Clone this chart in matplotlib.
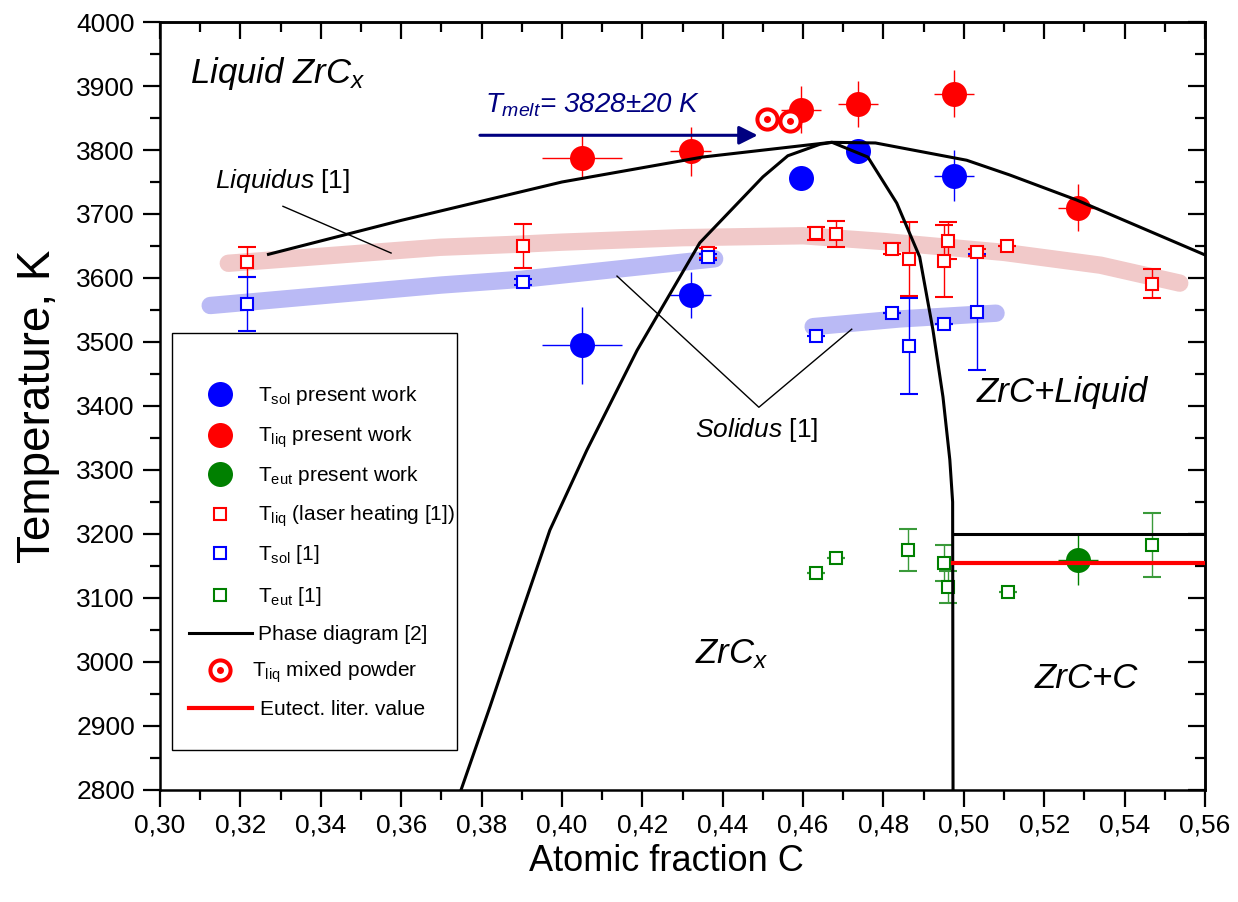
"""ZrC_x phase diagram near the congruent melting point, with present-work and literature points."""

import matplotlib

matplotlib.use("Agg")
import matplotlib.pyplot as plt  # noqa: E402
from matplotlib.patches import Rectangle  # noqa: E402
from matplotlib.ticker import FuncFormatter, MultipleLocator  # noqa: E402

plt.rcParams["font.family"] = ["Liberation Sans", "DejaVu Sans"]
plt.rcParams["mathtext.fontset"] = "custom"
plt.rcParams["mathtext.rm"] = "Liberation Sans"
plt.rcParams["mathtext.it"] = "Liberation Sans:italic"

# present work, solidus (filled blue)
sol_pw_x = [0.405, 0.432, 0.4595, 0.4736, 0.4975]
sol_pw_T = [3495, 3573, 3757, 3798, 3760]
sol_pw_xerr = [0.010, 0.005, 0.0, 0.0, 0.005]
sol_pw_Terr = [60, 36, 0, 0, 40]

# present work, liquidus (filled red)
liq_pw_x = [0.405, 0.432, 0.4595, 0.4736, 0.4975, 0.5284]
liq_pw_T = [3788, 3798, 3863, 3872, 3888, 3710]
liq_pw_xerr = [0.010, 0.005, 0.005, 0.005, 0.005, 0.005]
liq_pw_Terr = [34, 38, 37, 36, 37, 37]

# present work, eutectic (filled green)
eut_pw_x = [0.5284]
eut_pw_T = [3160]
eut_pw_xerr = [0.005]
eut_pw_Terr = [40]

# literature [1], laser heating liquidus (open red)
liq_lit_x = [0.3216, 0.3903, 0.4363, 0.4632, 0.4682, 0.4821, 0.4863, 0.4950, 0.4960, 0.5032, 0.5107, 0.5468]
liq_lit_T = [3625, 3650, 3639, 3670, 3669, 3646, 3630, 3627, 3658, 3640, 3650, 3591]
liq_lit_Terr = [23, 34, 8, 10, 20, 8, 58, 56, 29, 6, 0, 23]

# literature [1], solidus (open blue)
sol_lit_x = [0.3216, 0.3903, 0.4363, 0.4632, 0.4821, 0.4863, 0.4950, 0.5032]
sol_lit_T = [3559, 3594, 3633, 3509, 3546, 3494, 3528, 3547]
sol_lit_Terr = [42, 5, 5, 0, 0, 75, 0, 91]

# literature [1], eutectic (open green)
eut_lit_x = [0.4632, 0.4682, 0.4860, 0.4950, 0.4960, 0.5110, 0.5468]
eut_lit_T = [3139, 3162, 3175, 3155, 3117, 3109, 3183]
eut_lit_Terr = [0, 0, 33, 28, 25, 0, 50]

# mixed powder liquidus
mix_x = [0.4510, 0.4567]
mix_T = [3849, 3845]

# phase diagram [2]
pd_liq_x = [0.327, 0.36, 0.40, 0.435, 0.467, 0.478, 0.5007, 0.5114, 0.528, 0.56]
pd_liq_T = [3637, 3690, 3750, 3789, 3812, 3811, 3784, 3761, 3722, 3636]
pd_sol_x = [0.3749, 0.3821, 0.3896, 0.3970, 0.4062, 0.4187, 0.4343, 0.4500, 0.4562, 0.4642,
            0.4672, 0.4761, 0.4833, 0.4890, 0.4923, 0.4948, 0.4965, 0.4972, 0.4973]
pd_sol_T = [2800, 2930, 3070, 3206, 3331, 3487, 3655, 3758, 3791, 3809,
            3812, 3789, 3717, 3633, 3519, 3414, 3316, 3250, 2800]
x_eut = 0.4973
T_eut_pd = 3200
T_eut_lit = 3155

# smoothed trends of [1]
band_liq_x = [0.317, 0.3697, 0.39, 0.40, 0.43, 0.46, 0.48, 0.51, 0.534, 0.5537]
band_liq_T = [3623, 3648, 3653, 3656, 3663, 3666, 3657, 3640, 3620, 3592]
band_sol1_x = [0.3125, 0.37, 0.39, 0.438]
band_sol1_T = [3557, 3589, 3598, 3630]
band_sol2_x = [0.4625, 0.484, 0.508]
band_sol2_T = [3524, 3536, 3545]

T_melt = 3828
T_melt_arrow = 3823

BLUE, RED, GREEN, NAVY = "#0000ff", "#ff0000", "#008000", "#000080"


def main():
    fig = plt.figure(figsize=(12.38, 9.02), dpi=100)
    ax = fig.add_axes([0.1292, 0.1242, 0.8442, 0.8514])
    ax.set_xlim(0.30, 0.56)
    ax.set_ylim(2800, 4000)

    band = dict(lw=12.5, solid_capstyle="round", zorder=1)
    ax.plot(band_liq_x, band_liq_T, color="#f1c9c9", **band)
    ax.plot(band_sol1_x, band_sol1_T, color="#babaf5", **band)
    ax.plot(band_sol2_x, band_sol2_T, color="#babaf5", **band)

    # literature open squares
    sq = dict(fmt="s", ms=8.6, mfc="white", mew=1.5, elinewidth=1.0, capsize=6.5, capthick=1.0, zorder=3)
    ax.errorbar(liq_lit_x, liq_lit_T, yerr=liq_lit_Terr, color=RED, ecolor=RED, mec=RED, **sq)
    ax.errorbar(sol_lit_x, sol_lit_T, yerr=sol_lit_Terr, color=BLUE, ecolor=BLUE, mec=BLUE, **sq)
    ax.errorbar(eut_lit_x, eut_lit_T, yerr=eut_lit_Terr, color=GREEN, ecolor="#3a9a3a", mec=GREEN, **sq)

    # present work filled circles
    dot = dict(fmt="o", ms=18, mew=0, elinewidth=1.0, capsize=6.5, capthick=1.0, zorder=4)
    ax.errorbar(sol_pw_x, sol_pw_T, xerr=sol_pw_xerr, yerr=sol_pw_Terr, color=BLUE, **dot)
    ax.errorbar(liq_pw_x, liq_pw_T, xerr=liq_pw_xerr, yerr=liq_pw_Terr, color=RED, **dot)
    ax.errorbar(eut_pw_x, eut_pw_T, xerr=eut_pw_xerr, yerr=eut_pw_Terr, color=GREEN, **dot)

    # mixed powder
    ax.plot(mix_x, mix_T, "o", ms=14.5, mfc="white", mec=RED, mew=2.9, zorder=5)
    ax.plot(mix_x, mix_T, "o", ms=4, color=RED, zorder=5)

    # phase diagram [2]
    ax.plot(pd_liq_x, pd_liq_T, color="black", lw=2.2, zorder=6)
    ax.plot(pd_sol_x, pd_sol_T, color="black", lw=2.2, zorder=6)
    ax.plot([x_eut, 0.56], [T_eut_pd, T_eut_pd], color="black", lw=2.2, zorder=6)
    ax.plot([x_eut, 0.56], [T_eut_lit, T_eut_lit], color=RED, lw=3, zorder=6)

    # melting point arrow
    ax.annotate("", xy=(0.4487, T_melt_arrow), xytext=(0.3796, T_melt_arrow),
                arrowprops=dict(arrowstyle="-|>", color=NAVY, lw=2.2, mutation_scale=28,
                                shrinkA=0, shrinkB=0), zorder=6)
    ax.text(0.3809, 3858, r"$T_{melt}$= %d±20 K" % T_melt, color=NAVY, fontsize=20,
            style="italic", va="baseline")

    # pointer lines
    ax.plot([0.3306, 0.3575], [3712, 3639], color="black", lw=1.0, zorder=6)
    ax.plot([0.4137, 0.4490, 0.4721], [3603, 3398, 3520], color="black", lw=1.0, zorder=6)

    ax.text(0.3075, 3905, r"Liquid ZrC$_x$", fontsize=25, style="italic", va="baseline")
    ax.text(0.3137, 3741, r"$Liquidus$ [1]", fontsize=19, va="baseline")
    ax.text(0.4331, 3352, r"$Solidus$ [1]", fontsize=19, va="baseline")
    ax.text(0.5032, 3406, "ZrC+Liquid", fontsize=25, style="italic", va="baseline")
    ax.text(0.4331, 2998, r"ZrC$_x$", fontsize=25, style="italic", va="baseline")
    ax.text(0.5177, 2959, "ZrC+C", fontsize=25, style="italic", va="baseline")

    # axes, ticks
    ax.xaxis.set_major_locator(MultipleLocator(0.02))
    ax.xaxis.set_minor_locator(MultipleLocator(0.01))
    ax.yaxis.set_major_locator(MultipleLocator(100))
    ax.yaxis.set_minor_locator(MultipleLocator(50))
    ax.xaxis.set_major_formatter(FuncFormatter(lambda v, p: f"{v:.2f}".replace(".", ",")))
    ax.tick_params(which="major", direction="out", length=12, width=1.6, labelsize=19)
    ax.tick_params(which="minor", direction="out", length=7, width=1.6)
    ax.tick_params(axis="y", which="major", pad=6)
    ax.tick_params(axis="x", which="major", pad=5)
    for s in ax.spines.values():
        s.set_linewidth(1.8)

    top = ax.secondary_xaxis("top")
    top.xaxis.set_major_locator(MultipleLocator(0.02))
    top.xaxis.set_minor_locator(MultipleLocator(0.01))
    top.tick_params(which="major", direction="in", length=12, width=1.6, labeltop=False)
    top.tick_params(which="minor", direction="in", length=7, width=1.6)
    right = ax.secondary_yaxis("right")
    right.yaxis.set_major_locator(MultipleLocator(100))
    right.yaxis.set_minor_locator(MultipleLocator(50))
    right.tick_params(which="major", direction="in", length=12, width=1.6, labelright=False)
    right.tick_params(which="minor", direction="in", length=7, width=1.6)
    for a in (top, right):
        for s in a.spines.values():
            s.set_linewidth(1.8)

    ax.set_xlabel("Atomic fraction C", fontsize=26)
    ax.set_ylabel("Temperature, K", fontsize=33)
    ax.xaxis.set_label_coords(0.485, -0.07)
    ax.yaxis.set_label_coords(-0.096, 0.5)

    # legend drawn by hand to match the boxed layout
    tr = ax.transAxes
    ax.add_patch(Rectangle((0.0115, 0.0521), 0.2727, 0.5429, transform=tr, facecolor="white",
                           edgecolor="black", lw=1.0, zorder=10))

    def row(py):
        return (790 - py) / 768

    mx, tx = 0.0574, 0.0938
    kw = dict(transform=tr, zorder=11, clip_on=False)
    ax.plot([mx], [row(394)], "o", ms=18, mew=0, color=BLUE, **kw)
    ax.plot([mx], [row(435)], "o", ms=18, mew=0, color=RED, **kw)
    ax.plot([mx], [row(474)], "o", ms=18, mew=0, color=GREEN, **kw)
    ax.plot([mx], [row(514)], "s", ms=8.6, mfc="white", mec=RED, mew=1.5, **kw)
    ax.plot([mx], [row(553)], "s", ms=8.6, mfc="white", mec=BLUE, mew=1.5, **kw)
    ax.plot([mx], [row(595)], "s", ms=8.6, mfc="white", mec=GREEN, mew=1.5, **kw)
    ax.plot([0.0278, 0.0880], [row(633)] * 2, color="black", lw=2.2, **kw)
    ax.plot([mx], [row(670)], "o", ms=14.5, mfc="white", mec=RED, mew=2.9, **kw)
    ax.plot([mx], [row(670)], "o", ms=4, color=RED, **kw)
    ax.plot([0.0278, 0.0880], [row(708)] * 2, color=RED, lw=3, **kw)

    labels = [
        (394, tx, r"T$_{\rm sol}$ present work"),
        (435, tx, r"T$_{\rm liq}$ present work"),
        (474, tx, r"T$_{\rm eut}$ present work"),
        (514, tx, r"T$_{\rm liq}$ (laser heating [1])"),
        (553, tx, r"T$_{\rm sol}$ [1]"),
        (595, tx, r"T$_{\rm eut}$ [1]"),
        (633, tx, "Phase diagram [2]"),
        (670, 0.0880, r"T$_{\rm liq}$ mixed powder"),
        (708, 0.0957, "Eutect. liter. value"),
    ]
    for py, x, s in labels:
        ax.text(x, row(py + 7), s, fontsize=15, va="baseline", transform=tr, zorder=11)

    fig.savefig("out.png", dpi=100)


if __name__ == "__main__":
    main()
